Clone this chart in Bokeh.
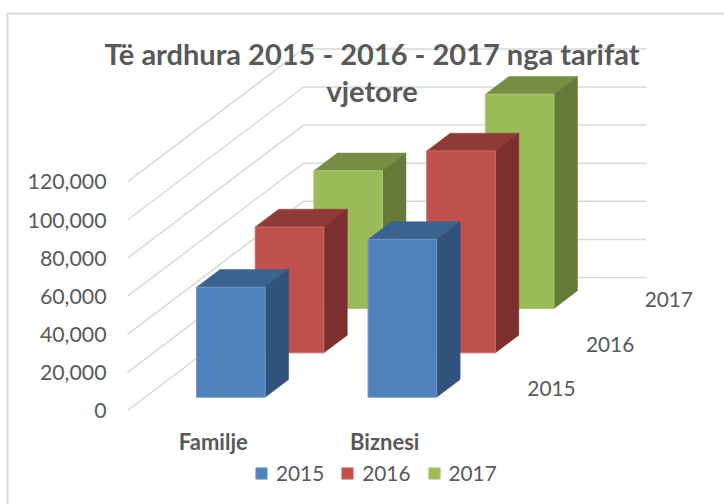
from bokeh.core.properties import value
from bokeh.embed import file_html
from bokeh.models import (BoxAnnotation, FixedTicker, Label, Legend, LegendItem,
                          NumeralTickFormatter, Range1d)
from bokeh.plotting import figure
from bokeh.resources import INLINE

# ---- data ----
categories = ["Familje", "Biznesi"]
series_names = ["2015", "2016", "2017"]
values_2015 = [57700, 82800]
values_2016 = [66100, 106000]
values_2017 = [72300, 112500]
value_ticks = [0, 20000, 40000, 60000, 80000, 100000, 120000]
title_lines = ["Të ardhura 2015 - 2016 - 2017 nga tarifat", "vjetore"]

# ---- style ----
FONT = "Lato"
TEXT = "#595959"
GRID = "#d9d9d9"
FRONT = ["#4f81bd", "#c0504d", "#9bbb59"]
TOP = ["#3b6390", "#903a38", "#758e43"]
SIDE = ["#31527a", "#7c2f2e", "#657a39"]
EDGE = ["#6f97c9", "#cb6d6a", "#adc675"]

# ---- layout (pixels of the oblique projection) ----
W, H = 724, 504
PAGE = 0
WALL_LEFT, WALL_FLOOR = 127, 410          # front-left corner of the floor
CAT_PX = 171.5                            # one category along the x axis
TICK_PX = 38.1 / 20000                    # pixels per unit of value
DEPTH_DX_PX, DEPTH_DY_PX = 176 / 3, 133 / 3  # one series along the depth axis
N_CAT, N_DEPTH = len(categories), len(series_names)
BAR_LO, BAR_HI = 0.3, 0.7                 # bar inside its cell (gap 150%)


def data_x(px):
    return (px - WALL_LEFT) / CAT_PX


def data_y(py):
    return (WALL_FLOOR - py) / TICK_PX


DX = DEPTH_DX_PX / CAT_PX
DY = DEPTH_DY_PX / TICK_PX

p = figure(
    width=W, height=H, output_backend="svg", toolbar_location=None,
    x_range=Range1d(data_x(PAGE), data_x(PAGE + W)),
    y_range=Range1d(data_y(PAGE + H), data_y(PAGE)),
    min_border=0, outline_line_color=None,
    background_fill_color="white", border_fill_color="white",
)
p.grid.visible = False

# value axis, drawn inside the frame at the left wall
ya = p.yaxis[0]
ya.fixed_location = 0
ya.ticker = FixedTicker(ticks=value_ticks)
ya.formatter = NumeralTickFormatter(format="0,0")
ya.axis_line_color = None
ya.major_tick_line_color = None
ya.minor_tick_line_color = None
ya.major_label_standoff = 15
ya.major_label_text_font = FONT
ya.major_label_text_font_size = "21.3px"
ya.major_label_text_color = TEXT

# category axis, drawn inside the frame at the floor edge
xa = p.xaxis[0]
xa.fixed_location = 0
centers = [i + 0.5 for i in range(N_CAT)]
xa.ticker = FixedTicker(ticks=centers)
xa.major_label_overrides = dict(zip(centers, categories))
xa.axis_line_color = None
xa.major_tick_line_color = None
xa.minor_tick_line_color = None
xa.major_label_standoff = 11
xa.major_label_text_font = FONT
xa.major_label_text_font_style = "bold"
xa.major_label_text_font_size = "22px"
xa.major_label_text_color = TEXT

# gridlines: along the side wall, then along the back wall
p.multi_line(
    xs=[[0, N_DEPTH * DX, N_CAT + N_DEPTH * DX] for _ in value_ticks],
    ys=[[v, v + N_DEPTH * DY, v + N_DEPTH * DY] for v in value_ticks],
    line_color=GRID, line_width=1.5,
)

# depth axis labels
p.text(
    x=[N_CAT + (s + 0.5) * DX for s in range(N_DEPTH)],
    y=[(s + 0.5) * DY for s in range(N_DEPTH)],
    text=series_names, x_offset=27.5, text_align="left",
    text_baseline="middle", text_font=value(FONT), text_font_size="20.8px",
    text_color=TEXT,
)

# bars, back series first
series_values = [values_2015, values_2016, values_2017]
fronts = {}
for s in reversed(range(N_DEPTH)):
    vals = series_values[s]
    d0, d1 = s + BAR_LO, s + BAR_HI
    x0 = [c + BAR_LO + d0 * DX for c in range(N_CAT)]
    x1 = [c + BAR_HI + d0 * DX for c in range(N_CAT)]
    bottom = [d0 * DY] * N_CAT
    top = [v + d0 * DY for v in vals]
    depth_x, depth_y = (d1 - d0) * DX, (d1 - d0) * DY
    p.patches(
        xs=[[a, a + depth_x, b + depth_x, b] for a, b in zip(x0, x1)],
        ys=[[t, t + depth_y, t + depth_y, t] for t in top],
        fill_color=TOP[s], line_color=TOP[s], line_width=0.5,
    )
    p.patches(
        xs=[[b, b + depth_x, b + depth_x, b] for b in x1],
        ys=[[u, u + depth_y, t + depth_y, t] for u, t in zip(bottom, top)],
        fill_color=SIDE[s], line_color=SIDE[s], line_width=0.5,
    )
    fronts[s] = p.quad(
        left=x0, right=x1, bottom=bottom, top=top,
        fill_color=FRONT[s], line_color=EDGE[s], line_width=1,
    )

legend = Legend(
    items=[LegendItem(label=n, renderers=[fronts[i]]) for i, n in enumerate(series_names)],
    orientation="horizontal", location=(254, 504 - 485),
    border_line_color=None, background_fill_alpha=0,
    glyph_width=14, glyph_height=14, label_standoff=8, spacing=16,
    padding=0, margin=0,
    label_text_font=FONT, label_text_font_size="20.8px", label_text_color=TEXT,
)
p.add_layout(legend)

# title over the plot
for line, py in zip(title_lines, (53, 90)):
    p.add_layout(Label(
        x=data_x(371.5), y=data_y(py), text=line, text_align="center",
        text_baseline="middle", text_font=FONT, text_font_style="bold",
        text_font_size="29px", text_color=TEXT,
    ))

# thin chart-area border: only its top and left edges fall inside the picture
p.add_layout(BoxAnnotation(
    left=data_x(7), top=data_y(13), right=data_x(PAGE + W + 50), bottom=data_y(PAGE + H + 50),
    fill_alpha=0, line_color=GRID, line_alpha=1, line_width=2, level="glyph",
))

open("out.html", "w").write(file_html(p, INLINE))
